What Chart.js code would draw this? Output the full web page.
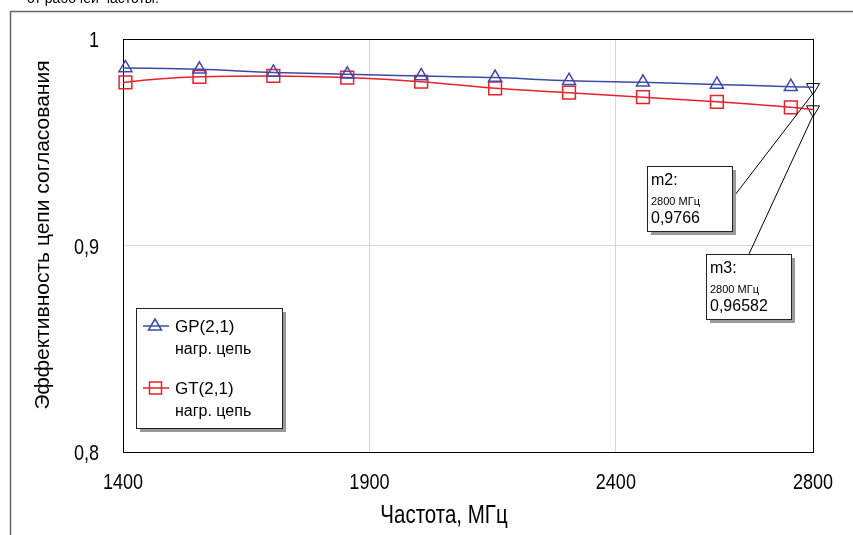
<!DOCTYPE html>
<html>
<head>
<meta charset="utf-8">
<script src="https://cdn.jsdelivr.net/npm/chart.js@4.4.1/dist/chart.umd.min.js"></script>
<style>
  body { margin: 0; background: #fff; }
  canvas { display: block; }
</style>
</head>
<body>
<canvas id="my_chart" width="853" height="535"></canvas>
<script>
// frequency points, MHz (markers are drawn on all except the two end points)
const freq = [1400, 1405, 1555, 1705, 1855, 2005, 2155, 2305, 2455, 2605, 2755, 2800];
const gpValues = [0.9860, 0.9860, 0.9853, 0.9838, 0.9829, 0.9821, 0.9813, 0.9798, 0.9790, 0.9780, 0.9769, 0.9766];
const gtValues = [0.9788, 0.9790, 0.9817, 0.9821, 0.9813, 0.9793, 0.9761, 0.9740, 0.9718, 0.9696, 0.9669, 0.96582];

const xTicks = [1400, 1900, 2400, 2800];
const yTicks = [0.8, 0.9, 1];

// markers m2, m3
const markerNames = ['m2:', 'm3:'];
const markerFreq = [2800, 2800];
const markerValues = [0.9766, 0.96582];
const markerLabels = ['0,9766', '0,96582'];

const legendNames = ['GP(2,1)', 'GT(2,1)'];
const legendSub = 'нагр. цепь';

const blue = '#3d4aa6';
const red = '#e8212b';
const sans = '"Liberation Sans", Arial, sans-serif';

const ctx = document.getElementById('my_chart');

const toPoints = (vals) => freq.map((f, i) => ({x: f, y: vals[i]}));
const markerRadius = (r) => (c) => (c.dataIndex === 0 || c.dataIndex === freq.length - 1) ? 0 : r;

function box(c, x, y, w, h) {
  c.fillStyle = '#9a9a9a';
  c.fillRect(x + 4, y + 4, w, h);
  c.fillStyle = '#fff';
  c.fillRect(x, y, w, h);
  c.strokeStyle = '#222';
  c.lineWidth = 1;
  c.strokeRect(x + 0.5, y + 0.5, w, h);
}

// condensed text: regular sans squeezed horizontally
function narrowText(c, text, x, y, size, align) {
  c.save();
  c.translate(x, y);
  c.scale(0.82, 1);
  c.font = size + 'px ' + sans;
  c.textAlign = align;
  c.textBaseline = 'middle';
  c.fillText(text, 0, 0);
  c.restore();
}

const extras = {
  id: 'extras',
  beforeDatasetsDraw(chart) {
    const c = chart.ctx;
    const a = chart.chartArea;
    c.save();
    c.strokeStyle = '#000';
    c.lineWidth = 1;
    c.strokeRect(a.left + 0.5, a.top + 0.5, a.right - a.left, a.bottom - a.top);
    c.restore();
  },
  afterDraw(chart) {
    const c = chart.ctx;
    const xs = chart.scales.x, ys = chart.scales.y;
    c.save();

    // outer frame and the cut caption line
    c.strokeStyle = '#666';
    c.lineWidth = 1.5;
    c.beginPath();
    c.moveTo(10.5, 535);
    c.lineTo(10.5, 11.5);
    c.lineTo(853, 11.5);
    c.stroke();
    c.fillStyle = '#000';
    c.font = '14px ' + sans;
    c.textBaseline = 'alphabetic';
    c.textAlign = 'left';
    c.fillText('от рабочей частоты.', 27, 3);

    // tick labels
    xs.ticks.forEach(t => {
      narrowText(c, String(t.value), xs.getPixelForValue(t.value), 483, 22, 'center');
    });
    ys.ticks.forEach(t => {
      narrowText(c, String(t.value).replace('.', ','), 99, ys.getPixelForValue(t.value) + 2, 22, 'right');
    });

    // axis titles
    narrowText(c, 'Частота, МГц', 444, 516, 25, 'center');
    c.save();
    c.translate(43, 235);
    c.rotate(-Math.PI / 2);
    c.font = '21px ' + sans;
    c.textAlign = 'center';
    c.textBaseline = 'middle';
    c.fillText('Эффективность цепи согласования', 0, 0);
    c.restore();

    // legend
    box(c, 136, 308, 146, 120);
    const rows = [326, 388];
    const cols = [blue, red];
    c.textBaseline = 'middle';
    rows.forEach((y, i) => {
      c.strokeStyle = cols[i];
      c.lineWidth = 1.5;
      c.beginPath();
      c.moveTo(143, y);
      c.lineTo(169, y);
      c.stroke();
      c.beginPath();
      if (i === 0) {
        c.moveTo(155, y - 7);
        c.lineTo(161.5, y + 4);
        c.lineTo(148.5, y + 4);
        c.closePath();
      } else {
        c.rect(149.5, y - 6, 12, 12);
      }
      c.stroke();
      c.fillStyle = '#000';
      c.textAlign = 'left';
      c.font = '17px ' + sans;
      c.fillText(legendNames[i], 175, y + 1);
      c.font = '16px ' + sans;
      c.fillText(legendSub, 175, y + 24);
    });

    // marker callouts
    const boxes = [
      {x: 647, y: 166, lx: 735, ly: 195},
      {x: 706, y: 254, lx: 749, ly: 254}
    ];
    boxes.forEach((b, i) => {
      const px = xs.getPixelForValue(markerFreq[i]);
      const py = ys.getPixelForValue(markerValues[i]);
      c.strokeStyle = '#000';
      c.lineWidth = 1;
      c.beginPath();
      c.moveTo(b.lx, b.ly);
      c.lineTo(px, py + 6);
      c.stroke();
      box(c, b.x, b.y, 85, 65);
      c.fillStyle = '#000';
      c.textAlign = 'left';
      c.font = '16px ' + sans;
      c.fillText(markerNames[i], b.x + 4, b.y + 15);
      c.font = '11px ' + sans;
      c.fillText(markerFreq[i] + ' МГц', b.x + 4, b.y + 36);
      c.font = '16px ' + sans;
      c.fillText(markerLabels[i], b.x + 4, b.y + 53);
    });
    c.restore();
  }
};

const myChart = new Chart(ctx, {
  type: 'line',
  data: {
    datasets: [
      {
        label: 'GP(2,1)',
        data: toPoints(gpValues),
        borderColor: blue,
        borderWidth: 1.5,
        pointStyle: 'triangle',
        pointRadius: markerRadius(7.5),
        pointBorderColor: blue,
        pointBorderWidth: 1.5,
        pointBackgroundColor: 'rgba(0,0,0,0)',
        cubicInterpolationMode: 'monotone',
        clip: false
      },
      {
        label: 'GT(2,1)',
        data: toPoints(gtValues),
        borderColor: red,
        borderWidth: 1.5,
        pointStyle: 'rect',
        pointRadius: markerRadius(9),
        pointBorderColor: red,
        pointBorderWidth: 1.5,
        pointBackgroundColor: 'rgba(0,0,0,0)',
        cubicInterpolationMode: 'monotone',
        clip: false
      },
      {
        label: 'markers',
        data: markerFreq.map((f, i) => ({x: f, y: markerValues[i]})),
        showLine: false,
        pointStyle: 'triangle',
        rotation: 180,
        pointRadius: 7.5,
        pointBorderColor: '#000',
        pointBorderWidth: 1,
        pointBackgroundColor: 'rgba(0,0,0,0)',
        clip: false
      }
    ]
  },
  options: {
    responsive: false,
    animation: false,
    events: [],
    layout: { padding: { top: 39, right: 40, left: 0, bottom: 0 } },
    plugins: {
      legend: { display: false },
      tooltip: { enabled: false }
    },
    scales: {
      x: {
        type: 'linear',
        min: 1400,
        max: 2800,
        afterBuildTicks: (s) => { s.ticks = xTicks.map(v => ({value: v})); },
        afterFit: (s) => { s.height = 83; },
        ticks: { display: false },
        grid: { color: '#d6d6d6', drawTicks: false },
        border: { color: '#000' }
      },
      y: {
        min: 0.8,
        max: 1,
        afterBuildTicks: (s) => { s.ticks = yTicks.map(v => ({value: v})); },
        afterFit: (s) => { s.width = 123; },
        ticks: { display: false },
        grid: { color: '#d6d6d6', drawTicks: false },
        border: { color: '#000' }
      }
    }
  },
  plugins: [extras]
});
</script>
</body>
</html>
